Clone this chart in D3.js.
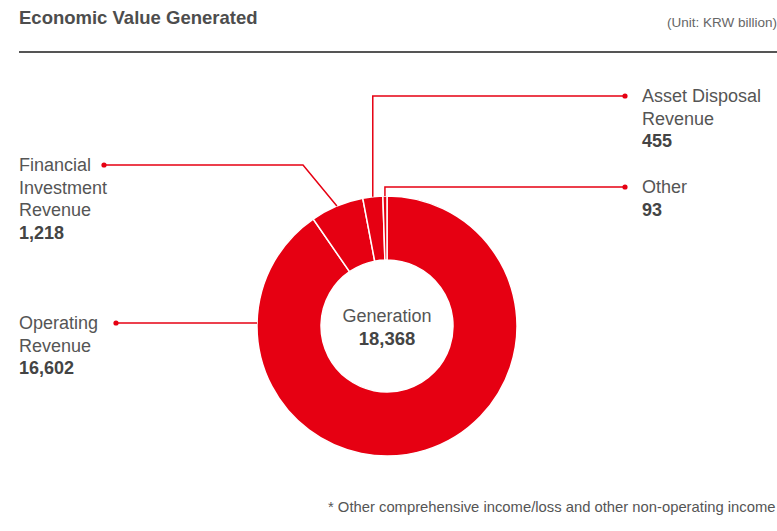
<!DOCTYPE html>
<html>
<head>
<meta charset="utf-8">
<script src="https://cdn.jsdelivr.net/npm/d3@7/dist/d3.min.js"></script>
<style>
  html, body { margin: 0; padding: 0; background: #fff; }
  svg { display: block; font-family: "Liberation Sans", Arial, Helvetica, sans-serif; }
</style>
</head>
<body>
<svg id="chart" width="777" height="531"></svg>
<script>
// ---- data ----
const categories = ["Operating Revenue", "Financial Investment Revenue", "Asset Disposal Revenue", "Other"];
const values = [16602, 1218, 455, 93];
const labelLines = [["Operating", "Revenue"], ["Financial", "Investment", "Revenue"], ["Asset Disposal", "Revenue"], ["Other"]];
const centerLabel = "Generation";
const totalValue = 18368;
const title = "Economic Value Generated";
const unitText = "(Unit: KRW billion)";
const footnote = "* Other comprehensive income/loss and other non-operating income";

// ---- layout ----
const W = 777, H = 531;
const cx = 387, cy = 326, rOuter = 130, rInner = 66;
const red = "#e60012";
const fmt = d3.format(",");
// label layout: text x, first baseline y, dot x, leader style
const labelLayout = [
  { tx: 19,  ty: 329, dotX: 116, kind: "horizontal" },
  { tx: 19,  ty: 171, dotX: 104, kind: "elbowDiag", elbowX: 303 },
  { tx: 642, ty: 102, dotX: 625, kind: "elbowVert" },
  { tx: 642, ty: 193, dotX: 625, kind: "elbowVert" }
];
const lineH = 22.5;

const svg = d3.select("#chart");

// title + rule
svg.append("text").attr("x", 19).attr("y", 24)
  .attr("font-size", 18.5).attr("font-weight", "bold").attr("fill", "#4d4d4d")
  .text(title);
svg.append("text").attr("x", 777).attr("y", 27).attr("text-anchor", "end")
  .attr("font-size", 13.5).attr("fill", "#666").text(unitText);
svg.append("line").attr("x1", 19).attr("x2", W).attr("y1", 52).attr("y2", 52)
  .attr("stroke", "#555").attr("stroke-width", 2);

// donut
const pie = d3.pie().sort(null).value(d => d).startAngle(0).endAngle(2 * Math.PI);
const arcs = pie(values);
const arc = d3.arc().innerRadius(rInner).outerRadius(rOuter);
const g = svg.append("g").attr("transform", `translate(${cx},${cy})`);
g.selectAll("path").data(arcs).join("path")
  .attr("d", arc)
  .attr("fill", red)
  .attr("stroke", "#fff")
  .attr("stroke-width", 1.5);

// center text
svg.append("text").attr("x", cx).attr("y", 322).attr("text-anchor", "middle")
  .attr("font-size", 18).attr("fill", "#555").text(centerLabel);
svg.append("text").attr("x", cx).attr("y", 344.5).attr("text-anchor", "middle")
  .attr("font-size", 18.5).attr("font-weight", "bold").attr("fill", "#444").text(fmt(totalValue));

// leaders and labels
const pt = (a, r) => [cx + r * Math.sin(a), cy - r * Math.cos(a)];
arcs.forEach((a, i) => {
  const L = labelLayout[i];
  const dotY = L.ty - 6;
  const mid = (a.startAngle + a.endAngle) / 2;
  let pts;
  if (L.kind === "horizontal") {
    const dy = dotY - cy;
    const ex = cx - Math.sqrt(rOuter * rOuter - dy * dy);
    pts = [[L.dotX, dotY], [ex, dotY]];
  } else if (L.kind === "elbowDiag") {
    pts = [[L.dotX, dotY], [L.elbowX, dotY], pt(mid, rOuter)];
  } else {
    const p = pt(mid, rOuter);
    pts = [[L.dotX, dotY], [p[0], dotY], p];
  }
  svg.append("path").attr("d", d3.line()(pts))
    .attr("fill", "none").attr("stroke", red).attr("stroke-width", 1.5);
  svg.append("circle").attr("cx", L.dotX).attr("cy", dotY).attr("r", 2.6).attr("fill", red);

  const t = svg.append("text").attr("x", L.tx).attr("y", L.ty).attr("font-size", 18);
  labelLines[i].forEach((ln, j) => {
    t.append("tspan").attr("x", L.tx).attr("dy", j === 0 ? 0 : lineH).attr("fill", "#555").text(ln);
  });
  t.append("tspan").attr("x", L.tx).attr("dy", lineH).attr("font-weight", "bold").attr("fill", "#444")
    .text(fmt(values[i]));
});

// footnote
svg.append("text").attr("x", 328).attr("y", 512).attr("font-size", 14.8).attr("fill", "#555").text(footnote);
</script>
</body>
</html>
